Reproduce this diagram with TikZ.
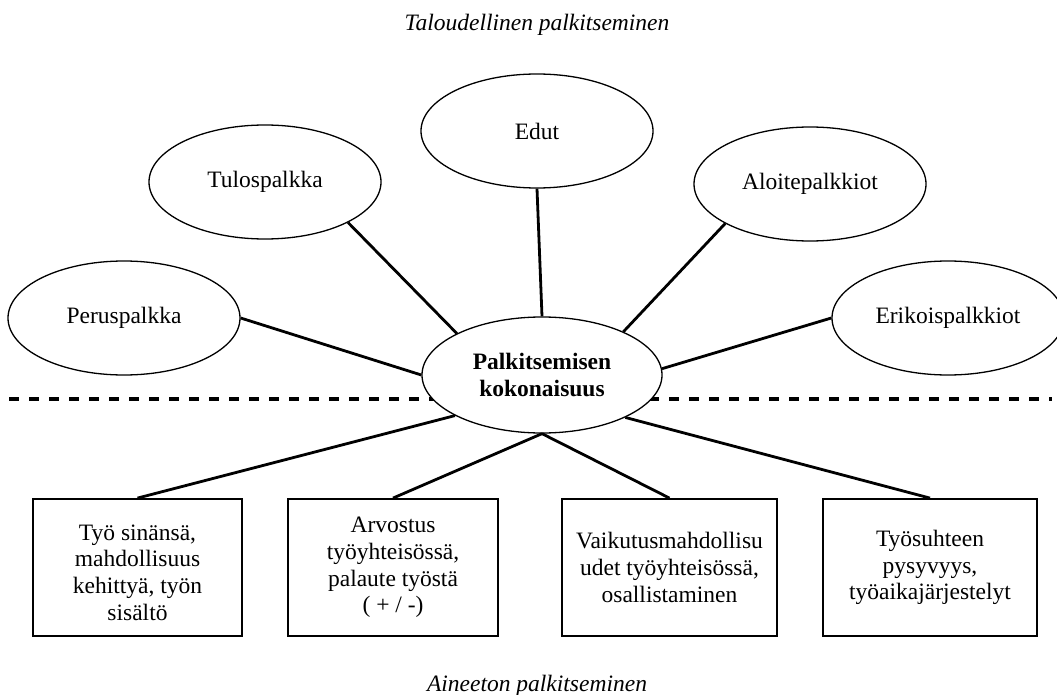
\documentclass[tikz,border=0pt]{standalone}
\usepackage{fontspec}
\setmainfont{Liberation Serif}
\usetikzlibrary{shapes.geometric}

\tikzset{
  txt/.style={font=\fontsize{23.5}{26.7}\selectfont},
  oval/.style={txt, draw, ellipse, line width=1.3pt, fill=white,
    minimum width=232pt, minimum height=114pt, inner sep=0pt},
  hub/.style={oval, minimum width=240pt, minimum height=116pt,
    font=\fontsize{23.5}{27}\selectfont\bfseries, align=center},
  card/.style={txt, draw, line width=1.8pt, minimum height=137pt,
    align=center, inner sep=0pt},
  link/.style={line width=2.8pt},
  divider/.style={line width=3.5pt, dash pattern=on 10pt off 10pt},
  caption/.style={txt, font=\fontsize{23.5}{26.7}\selectfont\itshape, anchor=base}
}

\begin{document}
\begin{tikzpicture}[x=1pt, y=-1pt]
  \useasboundingbox (0,0) rectangle (1057,695);

  % dividing line between the two kinds of reward
  \coordinate (dl) at (9,399);
  \coordinate (dr) at (1052,399);
  \draw[divider] (dl) -- (dr);

  % captions
  \node[caption] (top) at (537,31) {Taloudellinen palkitseminen};
  \node[caption] (bottom) at (537,691) {Aineeton palkitseminen};

  % central concept
  \node[hub] (cen) at (542,375) {Palkitsemisen\\kokonaisuus};

  % financial rewards
  \node[oval] (per) at (124,318) {Peruspalkka};
  \node[oval] (tul) at (265,182) {Tulospalkka};
  \node[oval] (edu) at (537,131) {Edut};
  \node[oval] (alo) at (810,184) {Aloitepalkkiot};
  \node[oval] (eri) at (948,318) {Erikoispalkkiot};

  % non-financial rewards
  \node[card, minimum width=209pt] (b1) at (137.5,567.5) {};
  \node[txt, align=center, inner sep=0pt] (b1t) at ([yshift=-5pt]b1.center)
    {Työ sinänsä,\\mahdollisuus\\kehittyä, työn\\sisältö};
  \node[card, minimum width=210pt] (b2) at (393,567.5)
    {Arvostus\\työyhteisössä,\\palaute työstä\\( + / -)};
  \node[card, minimum width=215pt] (b3) at (669.5,567.5)
    {Vaikutusmahdollisu\\udet työyhteisössä,\\osallistaminen};
  \node[card, minimum width=214pt] (b4) at (930,567.5)
    {Työsuhteen\\pysyvyys,\\työaikajärjestelyt};

  % connectors above the line
  \draw[link] (per.east) -- (cen.west);
  \draw[link] (tul.334) -- (cen.154);
  \draw[link] (edu.south) -- (cen.north);
  \draw[link] (alo.205) -- (cen.28);
  \draw[link] (eri.west) -- (cen.3);

  % connectors below the line
  \draw[link] (cen.205) -- (b1.north);
  \draw[link] (cen.south) -- (b2.north);
  \draw[link] (cen.south) -- (b3.north);
  \draw[link] (cen.333) -- (b4.north);
\end{tikzpicture}
\end{document}
